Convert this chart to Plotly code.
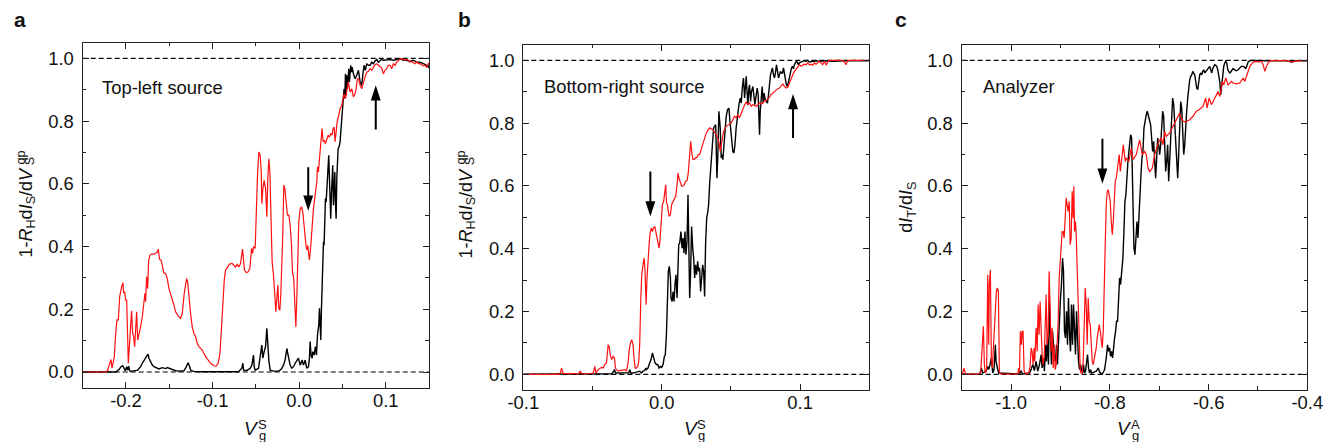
import plotly.graph_objects as go

# ---------------- data ----------------
# Panel a: top-left source
a_red = [(-0.250, 0.000), (-0.2235, 0.000), (-0.2215, 0.004), (-0.2188, 0.028), (-0.2173, 0.040), (-0.2162, 0.012), (-0.2150, 0.028), (-0.2135, 0.049), (-0.2119, 0.123), (-0.2104, 0.166), (-0.2088, 0.166), (-0.2073, 0.240), (-0.2050, 0.272), (-0.2035, 0.285), (-0.2027, 0.251), (-0.2015, 0.256), (-0.2004, 0.229), (-0.1992, 0.229), (-0.1973, 0.028), (-0.1954, 0.123), (-0.1935, 0.195), (-0.1923, 0.123), (-0.1912, 0.113), (-0.1900, 0.081), (-0.1888, 0.123), (-0.1877, 0.192), (-0.1865, 0.102), (-0.1850, 0.118), (-0.1831, 0.144), (-0.1812, 0.176), (-0.1792, 0.240), (-0.1781, 0.251), (-0.1773, 0.224), (-0.1762, 0.304), (-0.1750, 0.266), (-0.1738, 0.357), (-0.1723, 0.373), (-0.1704, 0.376), (-0.1677, 0.376), (-0.1658, 0.378), (-0.1638, 0.383), (-0.1627, 0.392), (-0.1612, 0.359), (-0.1596, 0.357), (-0.1581, 0.341), (-0.1565, 0.316), (-0.1542, 0.314), (-0.1523, 0.298), (-0.1504, 0.266), (-0.1485, 0.251), (-0.1465, 0.229), (-0.1446, 0.213), (-0.1427, 0.192), (-0.1396, 0.178), (-0.1369, 0.171), (-0.1350, 0.187), (-0.1327, 0.251), (-0.1312, 0.288), (-0.1300, 0.298), (-0.1288, 0.288), (-0.1273, 0.229), (-0.1254, 0.187), (-0.1235, 0.144), (-0.1215, 0.123), (-0.1196, 0.113), (-0.1177, 0.091), (-0.1158, 0.081), (-0.1138, 0.075), (-0.1119, 0.070), (-0.1100, 0.059), (-0.1081, 0.049), (-0.1050, 0.038), (-0.1023, 0.028), (-0.0985, 0.020), (-0.0958, 0.019), (-0.0935, 0.028), (-0.0915, 0.059), (-0.0896, 0.144), (-0.0881, 0.229), (-0.0865, 0.293), (-0.0850, 0.325), (-0.0827, 0.335), (-0.0804, 0.344), (-0.0773, 0.346), (-0.0754, 0.341), (-0.0735, 0.335), (-0.0715, 0.343), (-0.0696, 0.335), (-0.0677, 0.346), (-0.0665, 0.383), (-0.0654, 0.392), (-0.0642, 0.357), (-0.0631, 0.325), (-0.0612, 0.317), (-0.0592, 0.319), (-0.0569, 0.330), (-0.0550, 0.394), (-0.0538, 0.378), (-0.0527, 0.400), (-0.0508, 0.394),
         (-0.0496, 0.511), (-0.0481, 0.627), (-0.0465, 0.702), (-0.0450, 0.691), (-0.0438, 0.638), (-0.0431, 0.537), (-0.0419, 0.585), (-0.0404, 0.611), (-0.0388, 0.585), (-0.0373, 0.495), (-0.0362, 0.617), (-0.0350, 0.680), (-0.0338, 0.638), (-0.0327, 0.458), (-0.0312, 0.351), (-0.0296, 0.309), (-0.0281, 0.256), (-0.0269, 0.192), (-0.0258, 0.235), (-0.0246, 0.277), (-0.0235, 0.203), (-0.0223, 0.197), (-0.0212, 0.245), (-0.0200, 0.320), (-0.0188, 0.447), (-0.0177, 0.596), (-0.0165, 0.585), (-0.0150, 0.542), (-0.0135, 0.500), (-0.0119, 0.500), (-0.0104, 0.468), (-0.0088, 0.404), (-0.0077, 0.320), (-0.0062, 0.298), (-0.0050, 0.213), (-0.0038, 0.144), (-0.0027, 0.235), (-0.0015, 0.362), (-0.0004, 0.479), (0.0012, 0.521), (0.0027, 0.527), (0.0042, 0.511), (0.0058, 0.468), (0.0069, 0.426), (0.0081, 0.399), (0.0092, 0.389), (0.0100, 0.404), (0.0112, 0.373), (0.0119, 0.357), (0.0135, 0.404), (0.0150, 0.479), (0.0165, 0.521), (0.0185, 0.564), (0.0204, 0.606), (0.0212, 0.654), (0.0223, 0.638), (0.0235, 0.680), (0.0242, 0.702), (0.0254, 0.744), (0.0265, 0.776), (0.0277, 0.734), (0.0288, 0.739), (0.0304, 0.728), (0.0319, 0.744), (0.0335, 0.755), (0.0350, 0.749), (0.0365, 0.760), (0.0381, 0.755), (0.0392, 0.776), (0.0404, 0.781), (0.0415, 0.734), (0.0427, 0.765), (0.0438, 0.797), (0.0454, 0.813), (0.0465, 0.829), (0.0473, 0.840), (0.0492, 0.850), (0.0504, 0.866), (0.0519, 0.887), (0.0535, 0.872), (0.0550, 0.898), (0.0569, 0.925), (0.0588, 0.893), (0.0608, 0.903), (0.0627, 0.877), (0.0646, 0.887), (0.0658, 0.903), (0.0673, 0.935), (0.0688, 0.935), (0.0704, 0.914), (0.0723, 0.903), (0.0742, 0.925), (0.0762, 0.941), (0.0781, 0.956), (0.0800, 0.959), (0.0819, 0.967), (0.0838, 0.962), (0.0858, 0.972), (0.0877, 0.980), (0.0896, 0.983), (0.0915, 0.978), (0.0935, 0.972), (0.0954, 0.969), (0.0973, 0.951), (0.0992, 0.962), (0.1012, 0.967), (0.1031, 0.978), (0.1050, 0.978), (0.1069, 0.967), (0.1088, 0.983), (0.1108, 0.978), (0.1127, 0.988), (0.1146, 0.994), (0.1165, 0.997), (0.1185, 0.999), (0.1204, 0.997), (0.1223, 0.994), (0.1242, 0.997), (0.1262, 0.994), (0.1281, 0.988), (0.1300, 0.990), (0.1319, 0.986), (0.1338, 0.983), (0.1358, 0.988), (0.1377, 0.983), (0.1396, 0.983), (0.1415, 0.980), (0.1435, 0.976), (0.1454, 0.978), (0.1473, 0.972), (0.1492, 0.983), (0.1512, 0.988)]

a_black = [(-0.250, 0.000), (-0.2119, 0.000), (-0.2077, 0.009), (-0.2058, 0.017), (-0.2038, 0.020), (-0.2023, 0.012), (-0.2008, 0.004), (-0.1992, 0.017), (-0.1981, 0.006), (-0.1969, 0.019), (-0.1958, 0.004), (-0.1942, 0.002), (-0.1885, 0.004), (-0.1865, 0.006), (-0.1850, 0.011), (-0.1831, 0.017), (-0.1812, 0.028), (-0.1792, 0.038), (-0.1773, 0.044), (-0.1762, 0.049), (-0.1746, 0.057), (-0.1735, 0.044), (-0.1715, 0.033), (-0.1696, 0.022), (-0.1677, 0.017), (-0.1658, 0.014), (-0.1638, 0.011), (-0.1619, 0.010), (-0.1581, 0.014), (-0.1542, 0.011), (-0.1523, 0.014), (-0.1504, 0.012), (-0.1465, 0.006), (-0.1427, 0.004), (-0.1388, 0.003), (-0.1331, 0.004), (-0.1312, 0.012), (-0.1292, 0.028), (-0.1281, 0.030), (-0.1265, 0.017), (-0.1250, 0.004), (-0.1215, 0.002), (-0.1158, 0.001), (-0.0700, 0.001),
           (-0.0681, 0.006), (-0.0662, 0.012), (-0.0650, 0.028), (-0.0642, 0.006), (-0.0604, 0.005), (-0.0565, 0.012), (-0.0546, 0.022), (-0.0538, 0.038), (-0.0527, 0.054), (-0.0519, 0.017), (-0.0508, 0.006), (-0.0469, 0.012), (-0.0458, 0.044), (-0.0442, 0.065), (-0.0431, 0.086), (-0.0419, 0.044), (-0.0404, 0.065), (-0.0388, 0.081), (-0.0373, 0.139), (-0.0362, 0.065), (-0.0350, 0.038), (-0.0335, 0.006), (-0.0296, 0.003), (-0.0238, 0.003), (-0.0219, 0.006), (-0.0200, 0.012), (-0.0181, 0.022), (-0.0162, 0.038), (-0.0142, 0.075), (-0.0131, 0.059), (-0.0119, 0.038), (-0.0104, 0.022), (-0.0085, 0.012), (-0.0065, 0.017), (-0.0046, 0.028), (-0.0027, 0.038), (-0.0008, 0.044), (0.0012, 0.022), (0.0023, 0.033), (0.0035, 0.038), (0.0050, 0.022), (0.0069, 0.038), (0.0088, 0.012), (0.0108, 0.017), (0.0119, 0.044), (0.0127, 0.097), (0.0138, 0.054), (0.0150, 0.044), (0.0158, 0.065), (0.0173, 0.054), (0.0188, 0.081), (0.0200, 0.054), (0.0212, 0.118), (0.0227, 0.150), (0.0235, 0.203), (0.0242, 0.171), (0.0250, 0.102), (0.0258, 0.203), (0.0265, 0.277), (0.0273, 0.362), (0.0281, 0.415), (0.0288, 0.404), (0.0296, 0.479), (0.0304, 0.553), (0.0312, 0.542), (0.0319, 0.574), (0.0327, 0.638), (0.0335, 0.680), (0.0342, 0.691), (0.0350, 0.617), (0.0358, 0.532), (0.0365, 0.489), (0.0373, 0.564), (0.0381, 0.638), (0.0388, 0.659), (0.0396, 0.532), (0.0404, 0.596), (0.0412, 0.638), (0.0419, 0.542), (0.0427, 0.489), (0.0435, 0.617), (0.0442, 0.702), (0.0450, 0.712), (0.0462, 0.718), (0.0473, 0.734), (0.0481, 0.765), (0.0492, 0.813), (0.0504, 0.840), (0.0512, 0.872), (0.0519, 0.903), (0.0527, 0.872), (0.0535, 0.951), (0.0542, 0.882), (0.0550, 0.946), (0.0558, 0.903), (0.0565, 0.935), (0.0573, 0.967), (0.0581, 0.925), (0.0588, 0.946), (0.0596, 0.978), (0.0604, 0.956), (0.0612, 0.972), (0.0627, 0.951), (0.0646, 0.935), (0.0665, 0.946), (0.0685, 0.962), (0.0704, 0.925), (0.0723, 0.914), (0.0735, 0.946), (0.0750, 0.978), (0.0765, 0.962), (0.0781, 0.983), (0.0800, 0.978), (0.0819, 0.978), (0.0838, 0.988), (0.0858, 0.983), (0.0877, 0.992), (0.0896, 0.997), (0.0915, 0.988), (0.0935, 0.994), (0.0954, 0.997), (0.0973, 0.994), (0.1012, 0.995), (0.1050, 0.996), (0.1088, 0.994), (0.1127, 0.997), (0.1165, 0.999), (0.1204, 0.994), (0.1242, 0.994), (0.1281, 0.990), (0.1319, 0.994), (0.1358, 0.988), (0.1396, 0.988), (0.1435, 0.983), (0.1473, 0.978), (0.1492, 0.972), (0.1512, 0.988)]

# Panel b: bottom-right source
b_red = [(-0.100, 0.000), (-0.0745, 0.000), (-0.0731, 0.005), (-0.0724, 0.020), (-0.0712, 0.002), (-0.0600, 0.002), (-0.0588, 0.010), (-0.0576, 0.001), (-0.0543, 0.001), (-0.0495, 0.004), (-0.0483, 0.025), (-0.0476, 0.004), (-0.0459, 0.015), (-0.0447, 0.020), (-0.0435, 0.022), (-0.0423, 0.020), (-0.0411, 0.031), (-0.0399, 0.036), (-0.0387, 0.094), (-0.0380, 0.089), (-0.0370, 0.057), (-0.0361, 0.047), (-0.0351, 0.057), (-0.0341, 0.052), (-0.0334, 0.020), (-0.0327, 0.015), (-0.0315, 0.010), (-0.0303, 0.012), (-0.0291, 0.013), (-0.0279, 0.012), (-0.0267, 0.015), (-0.0255, 0.010), (-0.0243, 0.036), (-0.0236, 0.073), (-0.0226, 0.100), (-0.0216, 0.110), (-0.0207, 0.094), (-0.0200, 0.052), (-0.0192, 0.020), (-0.0183, 0.020), (-0.0173, 0.025), (-0.0166, 0.041), (-0.0159, 0.094), (-0.0151, 0.243), (-0.0144, 0.318), (-0.0135, 0.349), (-0.0127, 0.370), (-0.0120, 0.328), (-0.0113, 0.222), (-0.0106, 0.307), (-0.0099, 0.381), (-0.0091, 0.413), (-0.0084, 0.450), (-0.0075, 0.466), (-0.0067, 0.455), (-0.0060, 0.466), (-0.0050, 0.471), (-0.0038, 0.445), (-0.0026, 0.418), (-0.0019, 0.402), (-0.0012, 0.429), (-0.0002, 0.498), (0.0005, 0.541), (0.0014, 0.551), (0.0024, 0.583), (0.0029, 0.604), (0.0034, 0.551), (0.0043, 0.535), (0.0053, 0.503), (0.0063, 0.509), (0.0072, 0.541), (0.0082, 0.551), (0.0091, 0.562), (0.0101, 0.567), (0.0111, 0.604), (0.0118, 0.641), (0.0125, 0.625), (0.0135, 0.609), (0.0144, 0.599), (0.0154, 0.599), (0.0163, 0.604), (0.0173, 0.615), (0.0183, 0.617), (0.0192, 0.641), (0.0202, 0.721), (0.0209, 0.742), (0.0219, 0.700), (0.0226, 0.685), (0.0236, 0.685), (0.0245, 0.690), (0.0255, 0.690), (0.0264, 0.700), (0.0274, 0.700), (0.0298, 0.731), (0.0322, 0.769), (0.0346, 0.785), (0.0370, 0.779), (0.0394, 0.763), (0.0413, 0.742), (0.0423, 0.710), (0.0433, 0.742), (0.0447, 0.774), (0.0466, 0.790), (0.0486, 0.795), (0.0502, 0.800), (0.0514, 0.811), (0.0526, 0.822), (0.0538, 0.817), (0.0550, 0.827), (0.0562, 0.817), (0.0575, 0.832), (0.0587, 0.848), (0.0599, 0.859), (0.0611, 0.867), (0.0623, 0.859), (0.0635, 0.864), (0.0647, 0.854), (0.0659, 0.859), (0.0671, 0.857), (0.0683, 0.854), (0.0695, 0.859), (0.0707, 0.864), (0.0719, 0.861), (0.0731, 0.864), (0.0743, 0.872), (0.0755, 0.872), (0.0767, 0.878), (0.0779, 0.882), (0.0791, 0.891), (0.0803, 0.896), (0.0815, 0.901), (0.0827, 0.907), (0.0839, 0.910), (0.0851, 0.912), (0.0863, 0.917), (0.0875, 0.925), (0.0887, 0.917), (0.0899, 0.912), (0.0911, 0.914), (0.0923, 0.928), (0.0935, 0.944), (0.0947, 0.954), (0.0959, 0.965), (0.0971, 0.973), (0.0983, 0.981), (0.0995, 0.986), (0.1007, 0.981), (0.1019, 0.984), (0.1031, 0.988), (0.1043, 0.986), (0.1055, 0.992), (0.1067, 0.986), (0.1079, 0.988), (0.1091, 0.984), (0.1103, 0.992), (0.1115, 0.988), (0.1127, 0.994), (0.1139, 0.997), (0.1151, 0.992), (0.1163, 0.986), (0.1175, 0.997), (0.1188, 0.985), (0.1200, 0.995), (0.1212, 1.000), (0.1308, 1.000), (0.1320, 0.995), (0.1332, 0.986), (0.1344, 1.000), (0.1500, 1.000)]

b_black = [(-0.100, 0.000), (-0.0591, 0.000), (-0.0400, 0.001), (-0.0361, 0.002), (-0.0351, 0.007), (-0.0341, 0.015), (-0.0334, 0.004), (-0.0303, 0.004), (-0.0255, 0.006), (-0.0238, 0.005), (-0.0231, 0.015), (-0.0224, 0.004), (-0.0207, 0.004), (-0.0183, 0.006), (-0.0159, 0.010), (-0.0147, 0.004), (-0.0135, 0.010), (-0.0123, 0.012), (-0.0115, 0.020), (-0.0110, 0.015), (-0.0099, 0.020), (-0.0087, 0.036), (-0.0077, 0.047), (-0.0067, 0.068), (-0.0058, 0.052), (-0.0048, 0.036), (-0.0038, 0.031), (-0.0029, 0.031), (-0.0019, 0.020), (-0.0010, 0.025), (0.0000, 0.022), (0.0010, 0.031), (0.0019, 0.057), (0.0026, 0.062), (0.0034, 0.126), (0.0041, 0.243), (0.0048, 0.328), (0.0055, 0.344), (0.0063, 0.307), (0.0067, 0.243), (0.0075, 0.232), (0.0082, 0.263), (0.0089, 0.232), (0.0096, 0.286), (0.0103, 0.317), (0.0111, 0.243), (0.0115, 0.307), (0.0123, 0.413), (0.0130, 0.418), (0.0139, 0.455), (0.0147, 0.402), (0.0154, 0.434), (0.0161, 0.386), (0.0168, 0.455), (0.0175, 0.381), (0.0183, 0.424), (0.0190, 0.572), (0.0195, 0.413), (0.0202, 0.243), (0.0209, 0.328), (0.0216, 0.471), (0.0224, 0.402), (0.0231, 0.370), (0.0238, 0.307), (0.0245, 0.349), (0.0252, 0.317), (0.0260, 0.360), (0.0267, 0.328), (0.0274, 0.339), (0.0281, 0.264), (0.0288, 0.317), (0.0296, 0.349), (0.0303, 0.328), (0.0310, 0.248), (0.0317, 0.413), (0.0325, 0.498), (0.0332, 0.514), (0.0339, 0.540), (0.0346, 0.604), (0.0353, 0.646), (0.0360, 0.710), (0.0368, 0.742), (0.0375, 0.785), (0.0382, 0.790), (0.0390, 0.795), (0.0399, 0.625), (0.0406, 0.700), (0.0413, 0.838), (0.0423, 0.785), (0.0430, 0.689), (0.0438, 0.700), (0.0442, 0.684), (0.0449, 0.731), (0.0457, 0.795), (0.0466, 0.822), (0.0476, 0.843), (0.0486, 0.848), (0.0493, 0.806), (0.0500, 0.779), (0.0507, 0.731), (0.0514, 0.710), (0.0522, 0.705), (0.0529, 0.731), (0.0538, 0.785), (0.0548, 0.827), (0.0558, 0.859), (0.0567, 0.880), (0.0575, 0.864), (0.0582, 0.912), (0.0591, 0.944), (0.0599, 0.880), (0.0606, 0.933), (0.0611, 0.949), (0.0615, 0.912), (0.0623, 0.859), (0.0630, 0.912), (0.0635, 0.922), (0.0642, 0.869), (0.0649, 0.901), (0.0659, 0.917), (0.0666, 0.880), (0.0673, 0.859), (0.0683, 0.891), (0.0690, 0.912), (0.0697, 0.891), (0.0702, 0.838), (0.0707, 0.763), (0.0712, 0.838), (0.0719, 0.901), (0.0726, 0.917), (0.0733, 0.864), (0.0740, 0.896), (0.0748, 0.875), (0.0755, 0.869), (0.0764, 0.864), (0.0772, 0.891), (0.0779, 0.933), (0.0786, 0.954), (0.0793, 0.965), (0.0800, 0.976), (0.0808, 0.954), (0.0815, 0.944), (0.0822, 0.960), (0.0829, 0.986), (0.0837, 0.965), (0.0844, 0.944), (0.0851, 0.954), (0.0858, 0.965), (0.0865, 0.960), (0.0873, 0.960), (0.0880, 0.976), (0.0887, 0.954), (0.0894, 0.944), (0.0901, 0.922), (0.0909, 0.917), (0.0916, 0.933), (0.0923, 0.954), (0.0930, 0.970), (0.0938, 0.976), (0.0945, 0.981), (0.0952, 0.973), (0.0959, 0.986), (0.0966, 0.992), (0.0974, 0.999), (0.0981, 0.992), (0.0988, 0.986), (0.0995, 0.992), (0.1007, 0.995), (0.1019, 0.997), (0.1031, 0.999), (0.1043, 0.997), (0.1055, 1.000), (0.1067, 0.995), (0.1091, 0.997), (0.1115, 0.999), (0.1139, 0.997), (0.1188, 0.999), (0.1236, 0.997), (0.1332, 0.999), (0.1500, 0.999)]

# Panel c: analyzer
c_red = [(-1.100, 0.000), (-1.0981, 0.004), (-1.0954, 0.020), (-1.0927, 0.004), (-1.0900, 0.001), (-1.0643, 0.001), (-1.0616, 0.004), (-1.0588, 0.094), (-1.0561, 0.153), (-1.0541, 0.031), (-1.0521, 0.004), (-1.0494, 0.020), (-1.0473, 0.317), (-1.0453, 0.094), (-1.0440, 0.286), (-1.0419, 0.333), (-1.0399, 0.052), (-1.0379, 0.020), (-1.0358, 0.094), (-1.0338, 0.137), (-1.0318, 0.201), (-1.0298, 0.264), (-1.0277, 0.275), (-1.0257, 0.264), (-1.0237, 0.010), (-1.0216, 0.001), (-0.9865, 0.001), (-0.9844, 0.020), (-0.9831, 0.004), (-0.9811, 0.137), (-0.9790, 0.094), (-0.9777, 0.137), (-0.9757, 0.137), (-0.9736, 0.010), (-0.9696, 0.001), (-0.9642, 0.004), (-0.9614, 0.025), (-0.9594, 0.084), (-0.9574, 0.073), (-0.9554, 0.031), (-0.9533, 0.084), (-0.9520, 0.041), (-0.9493, 0.148), (-0.9472, 0.073), (-0.9452, 0.222), (-0.9432, 0.126), (-0.9412, 0.232), (-0.9391, 0.116), (-0.9371, 0.063), (-0.9351, 0.031), (-0.9330, 0.052), (-0.9310, 0.148), (-0.9290, 0.254), (-0.9270, 0.094), (-0.9249, 0.126), (-0.9229, 0.328), (-0.9209, 0.222), (-0.9188, 0.073), (-0.9168, 0.148), (-0.9148, 0.020), (-0.9127, 0.094), (-0.9107, 0.015), (-0.9087, 0.031), (-0.9067, 0.094), (-0.9046, 0.169), (-0.9026, 0.307), (-0.9006, 0.360), (-0.8985, 0.402), (-0.8965, 0.455), (-0.8945, 0.455), (-0.8925, 0.434), (-0.8904, 0.498), (-0.8884, 0.562), (-0.8864, 0.540), (-0.8843, 0.519), (-0.8823, 0.551), (-0.8803, 0.413), (-0.8783, 0.434), (-0.8762, 0.583), (-0.8742, 0.498), (-0.8728, 0.599), (-0.8715, 0.455), (-0.8695, 0.487), (-0.8681, 0.445), (-0.8661, 0.328), (-0.8641, 0.201), (-0.8620, 0.063), (-0.8600, 0.015), (-0.8580, 0.004), (-0.8559, 0.004), (-0.8539, 0.041), (-0.8519, 0.148), (-0.8498, 0.275), (-0.8478, 0.222), (-0.8458, 0.094), (-0.8438, 0.243), (-0.8417, 0.169), (-0.8397, 0.158), (-0.8377, 0.094), (-0.8356, 0.041), (-0.8336, 0.031), (-0.8316, 0.047), (-0.8296, 0.063), (-0.8275, 0.084), (-0.8255, 0.116), (-0.8235, 0.137), (-0.8214, 0.158), (-0.8194, 0.137), (-0.8174, 0.116), (-0.8154, 0.084), (-0.8133, 0.137), (-0.8113, 0.243), (-0.8093, 0.413), (-0.8072, 0.540), (-0.8052, 0.583), (-0.8032, 0.588), (-0.8012, 0.562), (-0.7991, 0.551), (-0.7971, 0.487), (-0.7950, 0.445), (-0.7930, 0.487), (-0.7910, 0.572), (-0.7890, 0.615), (-0.7870, 0.625), (-0.7849, 0.646), (-0.7829, 0.668), (-0.7809, 0.700), (-0.7788, 0.646), (-0.7768, 0.668), (-0.7748, 0.700), (-0.7727, 0.731), (-0.7707, 0.700), (-0.7687, 0.678), (-0.7667, 0.689), (-0.7613, 0.678), (-0.7565, 0.721), (-0.7532, 0.684), (-0.7464, 0.700), (-0.7396, 0.747), (-0.7342, 0.700), (-0.7295, 0.710), (-0.7261, 0.700), (-0.7227, 0.657), (-0.7193, 0.646), (-0.7139, 0.657), (-0.7092, 0.700), (-0.7045, 0.726), (-0.7004, 0.742), (-0.6957, 0.753), (-0.6923, 0.731), (-0.6889, 0.774), (-0.6855, 0.758), (-0.6788, 0.769), (-0.6734, 0.785), (-0.6686, 0.800), (-0.6639, 0.811), (-0.6585, 0.832), (-0.6551, 0.816), (-0.6517, 0.806), (-0.6463, 0.804), (-0.6416, 0.808), (-0.6382, 0.811), (-0.6314, 0.822), (-0.6247, 0.838), (-0.6192, 0.843), (-0.6145, 0.848), (-0.6111, 0.854), (-0.6057, 0.880), (-0.6030, 0.848), (-0.5989, 0.880), (-0.5942, 0.859), (-0.5908, 0.869), (-0.5854, 0.885), (-0.5807, 0.901), (-0.5773, 0.885), (-0.5719, 0.933), (-0.5692, 0.922), (-0.5651, 0.944), (-0.5604, 0.922), (-0.5536, 0.933), (-0.5503, 0.928), (-0.5435, 0.925), (-0.5367, 0.928), (-0.5300, 0.944), (-0.5266, 0.933), (-0.5232, 0.949), (-0.5198, 0.965), (-0.5164, 0.981), (-0.5110, 0.992), (-0.5063, 0.997), (-0.4995, 0.995), (-0.4928, 0.997), (-0.4894, 0.986), (-0.4860, 0.965), (-0.4826, 0.981), (-0.4792, 0.992), (-0.4745, 0.999), (-0.4420, 0.999), (-0.4319, 0.995), (-0.4251, 0.997), (-0.4150, 0.999), (-0.4000, 0.999)]

c_black = [(-1.100, 0.000), (-1.0643, 0.001), (-1.0629, 0.004), (-1.0602, 0.020), (-1.0575, 0.004), (-1.0507, 0.010), (-1.0473, 0.025), (-1.0453, 0.015), (-1.0426, 0.031), (-1.0399, 0.052), (-1.0372, 0.004), (-1.0345, 0.015), (-1.0318, 0.094), (-1.0304, 0.041), (-1.0277, 0.020), (-1.0250, 0.004), (-0.9831, 0.001), (-0.9797, 0.010), (-0.9763, 0.001), (-0.9628, 0.004), (-0.9594, 0.015), (-0.9560, 0.031), (-0.9527, 0.012), (-0.9493, 0.041), (-0.9459, 0.010), (-0.9425, 0.031), (-0.9391, 0.063), (-0.9371, 0.020), (-0.9344, 0.052), (-0.9324, 0.010), (-0.9303, 0.094), (-0.9283, 0.041), (-0.9263, 0.116), (-0.9242, 0.031), (-0.9222, 0.232), (-0.9202, 0.094), (-0.9182, 0.031), (-0.9161, 0.137), (-0.9141, 0.094), (-0.9121, 0.052), (-0.9100, 0.041), (-0.9080, 0.094), (-0.9060, 0.031), (-0.9040, 0.116), (-0.9019, 0.201), (-0.8999, 0.243), (-0.8979, 0.286), (-0.8958, 0.370), (-0.8938, 0.328), (-0.8918, 0.137), (-0.8898, 0.116), (-0.8877, 0.201), (-0.8857, 0.094), (-0.8837, 0.243), (-0.8816, 0.126), (-0.8796, 0.073), (-0.8776, 0.222), (-0.8755, 0.094), (-0.8735, 0.222), (-0.8715, 0.148), (-0.8695, 0.063), (-0.8674, 0.201), (-0.8654, 0.094), (-0.8634, 0.041), (-0.8613, 0.015), (-0.8593, 0.031), (-0.8573, 0.015), (-0.8553, 0.004), (-0.8532, 0.031), (-0.8512, 0.004), (-0.8492, 0.010), (-0.8471, 0.041), (-0.8451, 0.063), (-0.8431, 0.020), (-0.8411, 0.004), (-0.8390, 0.015), (-0.8370, 0.004), (-0.8275, 0.010), (-0.8235, 0.020), (-0.8208, 0.008), (-0.8174, 0.001), (-0.8140, 0.004), (-0.8106, 0.015), (-0.8072, 0.052), (-0.8045, 0.094), (-0.8025, 0.073), (-0.8005, 0.084), (-0.7984, 0.057), (-0.7964, 0.073), (-0.7944, 0.052), (-0.7924, 0.100), (-0.7903, 0.116), (-0.7883, 0.137), (-0.7863, 0.169), (-0.7843, 0.169), (-0.7822, 0.243), (-0.7802, 0.307), (-0.7782, 0.286), (-0.7762, 0.318), (-0.7735, 0.370), (-0.7714, 0.455), (-0.7694, 0.551), (-0.7674, 0.572), (-0.7653, 0.646), (-0.7633, 0.678), (-0.7613, 0.710), (-0.7599, 0.742), (-0.7579, 0.763), (-0.7559, 0.753), (-0.7545, 0.604), (-0.7532, 0.508), (-0.7511, 0.402), (-0.7491, 0.381), (-0.7471, 0.445), (-0.7450, 0.487), (-0.7430, 0.434), (-0.7410, 0.519), (-0.7390, 0.551), (-0.7369, 0.636), (-0.7349, 0.689), (-0.7329, 0.710), (-0.7308, 0.785), (-0.7288, 0.806), (-0.7261, 0.827), (-0.7241, 0.838), (-0.7221, 0.822), (-0.7193, 0.811), (-0.7173, 0.795), (-0.7153, 0.753), (-0.7133, 0.710), (-0.7112, 0.742), (-0.7092, 0.668), (-0.7072, 0.625), (-0.7051, 0.689), (-0.7031, 0.753), (-0.7011, 0.731), (-0.6991, 0.700), (-0.6970, 0.731), (-0.6950, 0.785), (-0.6930, 0.838), (-0.6909, 0.822), (-0.6889, 0.700), (-0.6869, 0.646), (-0.6849, 0.678), (-0.6828, 0.731), (-0.6808, 0.615), (-0.6788, 0.689), (-0.6767, 0.763), (-0.6747, 0.848), (-0.6727, 0.880), (-0.6706, 0.859), (-0.6686, 0.806), (-0.6666, 0.731), (-0.6646, 0.689), (-0.6625, 0.625), (-0.6605, 0.700), (-0.6585, 0.806), (-0.6564, 0.869), (-0.6544, 0.848), (-0.6524, 0.785), (-0.6503, 0.700), (-0.6483, 0.731), (-0.6463, 0.806), (-0.6443, 0.838), (-0.6422, 0.880), (-0.6402, 0.922), (-0.6382, 0.938), (-0.6361, 0.949), (-0.6341, 0.954), (-0.6321, 0.965), (-0.6301, 0.960), (-0.6280, 0.954), (-0.6260, 0.933), (-0.6240, 0.912), (-0.6219, 0.907), (-0.6199, 0.933), (-0.6179, 0.954), (-0.6159, 0.960), (-0.6138, 0.954), (-0.6118, 0.965), (-0.6098, 0.970), (-0.6077, 0.960), (-0.6057, 0.965), (-0.6037, 0.970), (-0.6017, 0.974), (-0.5996, 0.978), (-0.5976, 0.981), (-0.5956, 0.970), (-0.5935, 0.960), (-0.5915, 0.974), (-0.5895, 0.981), (-0.5875, 0.986), (-0.5854, 0.984), (-0.5834, 0.981), (-0.5814, 0.970), (-0.5793, 0.954), (-0.5773, 0.933), (-0.5753, 0.891), (-0.5733, 0.922), (-0.5712, 0.965), (-0.5692, 0.981), (-0.5672, 0.992), (-0.5651, 0.997), (-0.5631, 0.992), (-0.5611, 0.970), (-0.5591, 0.965), (-0.5570, 0.960), (-0.5550, 0.963), (-0.5530, 0.970), (-0.5503, 0.974), (-0.5469, 0.970), (-0.5435, 0.967), (-0.5401, 0.970), (-0.5367, 0.976), (-0.5334, 0.981), (-0.5300, 0.981), (-0.5266, 0.978), (-0.5246, 0.973), (-0.5225, 0.986), (-0.5198, 0.995), (-0.5164, 0.999), (-0.5131, 1.000), (-0.4826, 0.999), (-0.4420, 0.999), (-0.4319, 0.995), (-0.4285, 0.997), (-0.4218, 0.999), (-0.4000, 0.999)]

# arrows: (x, tail y, tip y)
a_arrows = [(0.0105, 0.653, 0.514), (0.0885, 0.773, 0.914)]
b_arrows = [(-0.0082, 0.646, 0.503), (0.0949, 0.753, 0.893)]
c_arrows = [(-0.815, 0.750, 0.607)]

panel_labels = ["a", "b", "c"]
panel_texts = ["Top-left source", "Bottom-right source", "Analyzer"]
text_pos = [(-0.230, 0.908), (-0.0863, 0.917), (-1.0608, 0.917)]

x_ranges = [[-0.25, 0.15], [-0.1, 0.15], [-1.1, -0.4]]
x_major = [[-0.2, -0.1, 0.0, 0.1], [-0.1, 0.0, 0.1], [-1.0, -0.8, -0.6, -0.4]]
x_major_text = [["-0.2", "-0.1", "0.0", "0.1"], ["-0.1", "0.0", "0.1"], ["-1.0", "-0.8", "-0.6", "-0.4"]]
x_minor = [[-0.15, -0.05, 0.05], [-0.05, 0.05], [-0.9, -0.7, -0.5]]
y_major = [0.0, 0.2, 0.4, 0.6, 0.8, 1.0]
y_minor = [0.1, 0.3, 0.5, 0.7, 0.9]
y_range = [-0.05, 1.05]

# ---------------- figure ----------------
W, H = 1324, 442
FONT = "Liberation Sans"
FS = 18.4
RED = "#ff1010"
BLACK = "#000000"
AXC = "#222222"

# plot areas in pixels (left, right, top, bottom)
boxes = [(82.7, 429.0, 42.7, 387.7), (523.3, 869.3, 44.7, 390.0), (961.7, 1307.3, 44.7, 390.0)]

fig = go.Figure()
series = [(a_red, a_black), (b_red, b_black), (c_red, c_black)]
arrows = [a_arrows, b_arrows, c_arrows]

for i, (red, black) in enumerate(series):
    xa = "x" if i == 0 else f"x{i+1}"
    ya = "y" if i == 0 else f"y{i+1}"
    bx, by = zip(*black)
    rx, ry = zip(*red)
    fig.add_trace(go.Scatter(x=bx, y=by, mode="lines", line=dict(color=BLACK, width=1.4),
                             xaxis=xa, yaxis=ya, showlegend=False, hoverinfo="skip"))
    fig.add_trace(go.Scatter(x=rx, y=ry, mode="lines", line=dict(color=RED, width=1.2),
                             xaxis=xa, yaxis=ya, showlegend=False, hoverinfo="skip"))
    for (ax_, tail, tip) in arrows[i]:
        fig.add_trace(go.Scatter(x=[ax_, ax_], y=[tail, tip], mode="lines+markers",
                                 line=dict(color=BLACK, width=2.0),
                                 marker=dict(symbol="arrow", size=[0, 16], angleref="previous",
                                             color=BLACK, opacity=1, line=dict(width=0)),
                                 xaxis=xa, yaxis=ya, showlegend=False, hoverinfo="skip"))

axis_common = dict(showline=True, linecolor=AXC, linewidth=1.3, mirror="ticks",
                   ticks="inside", ticklen=6, tickwidth=1.3, tickcolor=AXC,
                   showgrid=False, zeroline=False, automargin=False,
                   tickfont=dict(family=FONT, size=FS, color="#111111"))

layout = dict(template="none", width=W, height=H,
              margin=dict(l=0, r=0, t=0, b=0, pad=0, autoexpand=False),
              paper_bgcolor="white", plot_bgcolor="white", showlegend=False)

shapes = []
annotations = []
for i, (l, r, t, b) in enumerate(boxes):
    sfx = "" if i == 0 else str(i + 1)
    layout["xaxis" + sfx] = dict(axis_common, domain=[l / W, r / W], range=x_ranges[i],
                                 anchor="y" + sfx, tickmode="array", tickvals=x_major[i],
                                 ticktext=x_major_text[i], ticklabelstandoff=-4,
                                 minor=dict(tickmode="array", tickvals=x_minor[i], ticks="inside",
                                            ticklen=3.5, tickwidth=1.3, tickcolor=AXC, showgrid=False))
    layout["yaxis" + sfx] = dict(axis_common, domain=[1 - b / H, 1 - t / H], range=y_range,
                                 anchor="x" + sfx, tickmode="array", tickvals=y_major,
                                 ticktext=[f"{v:.1f}" for v in y_major], ticklabelstandoff=4,
                                 minor=dict(tickmode="array", tickvals=y_minor, ticks="inside",
                                            ticklen=3.5, tickwidth=1.3, tickcolor=AXC, showgrid=False))
    for yv in (0.0, 1.0):
        shapes.append(dict(type="line", xref=f"x{sfx} domain", x0=0, x1=1, yref="y" + sfx, y0=yv, y1=yv,
                           line=dict(color=BLACK, width=1.2, dash="5px,3px"), layer="below"))
    # inset label
    annotations.append(dict(text=panel_texts[i], xref="x" + sfx, yref="y" + sfx,
                            x=text_pos[i][0], y=text_pos[i][1], xanchor="left", yanchor="middle",
                            showarrow=False, font=dict(family=FONT, size=FS, color="#111111")))


def pan(text, px, py, size, angle=0, xanchor="center", yanchor="middle"):
    annotations.append(dict(text=text, xref="paper", yref="paper", x=px / W, y=1 - py / H,
                            xanchor=xanchor, yanchor=yanchor, showarrow=False, textangle=angle,
                            font=dict(family=FONT, size=size, color="#111111")))


# panel letters
for lab, px in zip(panel_labels, (12.7, 457.3, 894.0)):
    pan(f"<b>{lab}</b>", px - 1, 19.4, 21, xanchor="left")

# x-axis titles (V with stacked sub/superscript)
for (vx, sx, sup, sub) in [(251.5, 262.5, "S", "g"), (691.3, 701.7, "S", "g"), (1124.2, 1135.0, "A", "g")]:
    pan("<i>V</i>", vx, 428.4, 19)
    pan(sup, sx, 424.8, 13)
    pan(sub, sx, 435.8, 13)

# y-axis titles
for dx in (0, 440):
    pan("1-<i>R</i><sub>H</sub>d<i>I</i><sub>S</sub>/d<i>V</i>", 27.0 + dx, 212.5, 18, angle=-90)
    pan("qp", 20.6 + dx, 158.0, 12.6, angle=-90)
    pan("S", 30.2 + dx, 161.0, 12.6, angle=-90)
pan("d<i>I</i><sub>T</sub>/d<i>I</i><sub>S</sub>", 908.0, 206.7, 18, angle=-90)

layout["shapes"] = shapes
layout["annotations"] = annotations
fig.update_layout(**layout)
fig.write_html("out.html")
